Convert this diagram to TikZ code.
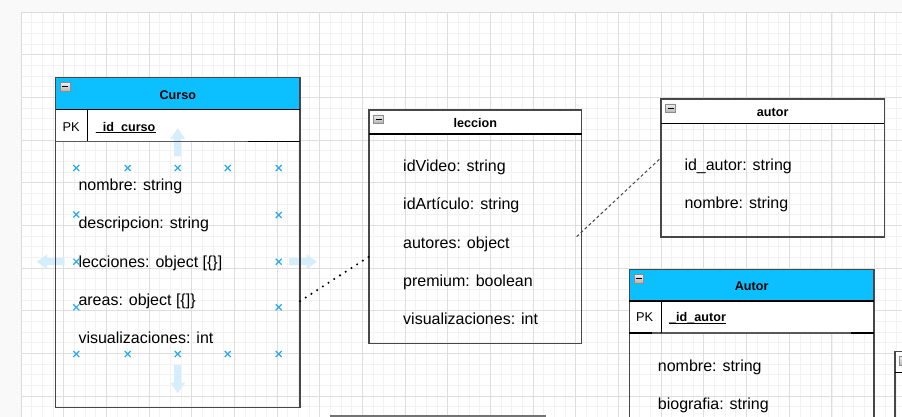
\documentclass[tikz,border=0pt]{standalone}
\usepackage{fontspec}
\setmainfont{Liberation Sans}

\definecolor{headcyan}{RGB}{12,191,255}
\definecolor{gridlight}{RGB}{242,242,242}
\definecolor{griddark}{RGB}{222,222,222}
\definecolor{hoverblue}{RGB}{41,170,235}
\definecolor{hoverpale}{RGB}{214,238,252}
\definecolor{pagegrey}{RGB}{249,249,249}

\begin{document}
\begin{tikzpicture}[x=1pt, y=-1pt,
    tablebox/.style={draw=black!72, line width=1.4pt, anchor=north west, inner sep=0pt, outer sep=0pt},
    headfill/.style={fill=white, anchor=north west, inner sep=0pt, outer sep=0pt},
    rowline/.style={draw=black, line width=1.1pt},
    tabletitle/.style={font=\fontsize{12.6}{15}\selectfont\bfseries, anchor=base, inner sep=0pt},
    pkcell/.style={font=\fontsize{12.8}{15}\selectfont, anchor=base west, inner sep=0pt},
    attrtext/.style={font=\fontsize{16}{19}\selectfont, anchor=base west, inner sep=0pt},
    hovermark/.style={draw=hoverblue, line width=1.2pt},
    hoverarrow/.style={fill=hoverpale},
    collapse/.style={draw=black!45, line width=0.6pt, top color=black!6, bottom color=black!30},
    gridthin/.style={draw=gridlight, line width=0.8pt},
    gridthick/.style={draw=griddark, line width=0.9pt}]
    % page and grid
    \useasboundingbox (0,0) rectangle (902,417);
    \clip (0,0) rectangle (902,417);
    \fill[pagegrey] (0,0) rectangle (902,417);
    \fill[white] (21.7,12.7) rectangle (910,425);
    \foreach \k in {1,...,83}
        \draw[gridthin] ({21.2+\k*10.667},12.7) -- ++(0,410);
    \foreach \k in {1,...,38}
        \draw[gridthin] (21.7,{12+\k*10.667}) -- ++(890,0);
    \foreach \k in {1,...,21}
        \draw[gridthick] ({21.2+\k*42.667},12.7) -- ++(0,410);
    \foreach \k in {1,...,9}
        \draw[gridthick] (21.7,{12+\k*42.667}) -- ++(890,0);
    \draw[black!14, line width=1pt] (21.7,425) -- (21.7,12.7) -- (910,12.7);

    % header and key rows
    \node[headfill, fill=headcyan, minimum width=244.3pt, minimum height=31.6pt] (cursohead) at (55.7,77.7) {};
    \node[headfill, minimum width=244.3pt, minimum height=32pt] (cursopk) at (cursohead.south west) {};
    \node[headfill, minimum width=212.7pt, minimum height=24pt] (lecchead) at (369,110) {};
    \node[headfill, minimum width=223.3pt, minimum height=24.3pt] (autorhead) at (661,99) {};
    \node[headfill, fill=headcyan, minimum width=244.7pt, minimum height=31.7pt] (autorkhead) at (629.3,269.3) {};
    \node[headfill, minimum width=244.7pt, minimum height=32pt] (autorpk) at (autorkhead.south west) {};
    \node[headfill, minimum width=30pt, minimum height=21pt] (extrahead) at (895,351.7) {};

    % hover arrows round Curso
    \foreach \ax/\ay/\ar in {317/261.7/0, 36.7/261.7/180, 177.7/128.3/90, 177.7/393/-90}
        \fill[hoverarrow, shift={(\ax,\ay)}, rotate=\ar] (0,0) -- (-10.5,-7.5) -- (-10.5,-3.5) -- (-28,-3.5)
            -- (-28,3.5) -- (-10.5,3.5) -- (-10.5,7.5) -- cycle;

    % tables
    \node[tablebox, minimum width=244.3pt, minimum height=329.6pt] (curso) at (55.7,77.7) {};
    \node[tablebox, minimum width=212.7pt, minimum height=233.3pt] (leccion) at (369,110) {};
    \node[tablebox, minimum width=223.3pt, minimum height=138pt] (autor) at (661,99) {};
    \node[tablebox, minimum width=244.7pt, minimum height=200pt] (autorkey) at (629.3,269.3) {};
    \node[tablebox, minimum width=30pt, minimum height=100pt] (extra) at (895,351.7) {};
    \node[tablebox, draw=black!55, line width=1.8pt, minimum width=214pt, minimum height=40pt] (lowbox) at (331,416) {};

    \foreach \n in {cursohead, lecchead, autorhead, autorkhead, extrahead}
        \draw[rowline] (\n.south west) -- (\n.south east);
    \draw[rowline, draw=black!65] (cursopk.south west) -- (cursopk.south east);
    \draw[rowline] ([xshift=-52pt]cursopk.south east) -- (cursopk.south east);
    \draw[rowline, draw=black!65] (autorpk.south west) -- (autorpk.south east);
    \draw[rowline] (autorpk.south west) -- ++(23,0) ([xshift=-23pt]autorpk.south east) -- (autorpk.south east);
    \draw[rowline] ([xshift=32pt]cursopk.north west) -- ([xshift=32pt]cursopk.south west);
    \draw[rowline] ([xshift=32pt]autorpk.north west) -- ([xshift=32pt]autorpk.south west);

    \foreach \n in {curso, leccion, autor, autorkey, extra} {
        \draw[collapse] ([shift={(4.7,5)}]\n.north west) rectangle ++(9.5,8.5);
        \draw[line width=1pt] ([shift={(6.5,9.3)}]\n.north west) -- ++(6,0);
    }

    % titles and keys
    \node[tabletitle] (cursotitle) at ([yshift=-5.8pt]cursohead.center) {Curso};
    \node[tabletitle] (lecctitle) at ([yshift=-5.3pt]lecchead.center) {leccion};
    \node[tabletitle] (autortitle) at ([yshift=-4.9pt]autorhead.center) {autor};
    \node[tabletitle] (autorktitle) at ([yshift=-4.9pt]autorkhead.center) {Autor};

    \node[pkcell] (cursopktext) at (62.3,131.3) {PK};
    \node[pkcell, font=\fontsize{12.6}{15}\selectfont\bfseries] (cursoid) at (95.7,131.3) {\_id\_curso};
    \draw[line width=0.9pt] ([yshift=-1.6pt]cursoid.base west) -- ([yshift=-1.6pt]cursoid.base east);
    \node[pkcell] (autorpktext) at (636,321.7) {PK};
    \node[pkcell, font=\fontsize{12.6}{15}\selectfont\bfseries] (autorid) at (669,321.7) {\_id\_autor};
    \draw[line width=0.9pt] ([yshift=-1.6pt]autorid.base west) -- ([yshift=-1.6pt]autorid.base east);

    % attributes
    \foreach \txt [count=\i from 0] in {nombre: string, descripcion: string, lecciones: object [\{\}], areas: object [\{]\}, visualizaciones: int}
        \node[attrtext] (cursoattr\i) at (78.3,{190.7+38.2*\i}) {\txt};
    \foreach \txt [count=\i from 0] in {idVideo: string, idArtículo: string, autores: object, premium: boolean, visualizaciones: int}
        \node[attrtext] (leccattr\i) at (403,{171.7+38.2*\i}) {\txt};
    \foreach \txt [count=\i from 0] in {id\_autor: string, nombre: string}
        \node[attrtext] (autorattr\i) at (684.3,{170.7+37.6*\i}) {\txt};
    \foreach \txt [count=\i from 0] in {nombre: string, biografia: string}
        \node[attrtext] (autorkattr\i) at (657.7,{371.7+37.6*\i}) {\txt};

    % hover marks
    \foreach \mx/\my in {76.3/168, 127.7/168, 177.7/168, 227.7/168, 278.7/168, 76.3/214.5, 278.7/215,
                         76.3/261.7, 278.7/261.7, 76.3/307.3, 278.7/307.3,
                         76.3/354, 127.7/354, 177.7/354, 227.7/354, 278.7/354}
        \draw[hovermark, shift={(\mx,\my)}] (-3,-3) -- (3,3) (-3,3) -- (3,-3);

    % links
    \draw[black, line width=2.3pt, line cap=round, dash pattern=on 0pt off 6.8pt]
        (curso.east |- cursoattr3) -- ([yshift=-30pt]leccion.west);
    \draw[black!75, line width=1pt, dash pattern=on 3pt off 2.5pt]
        ([xshift=-5pt,yshift=-10pt]leccion.east) -- ([yshift=10.3pt]autor.west);
\end{tikzpicture}
\end{document}
